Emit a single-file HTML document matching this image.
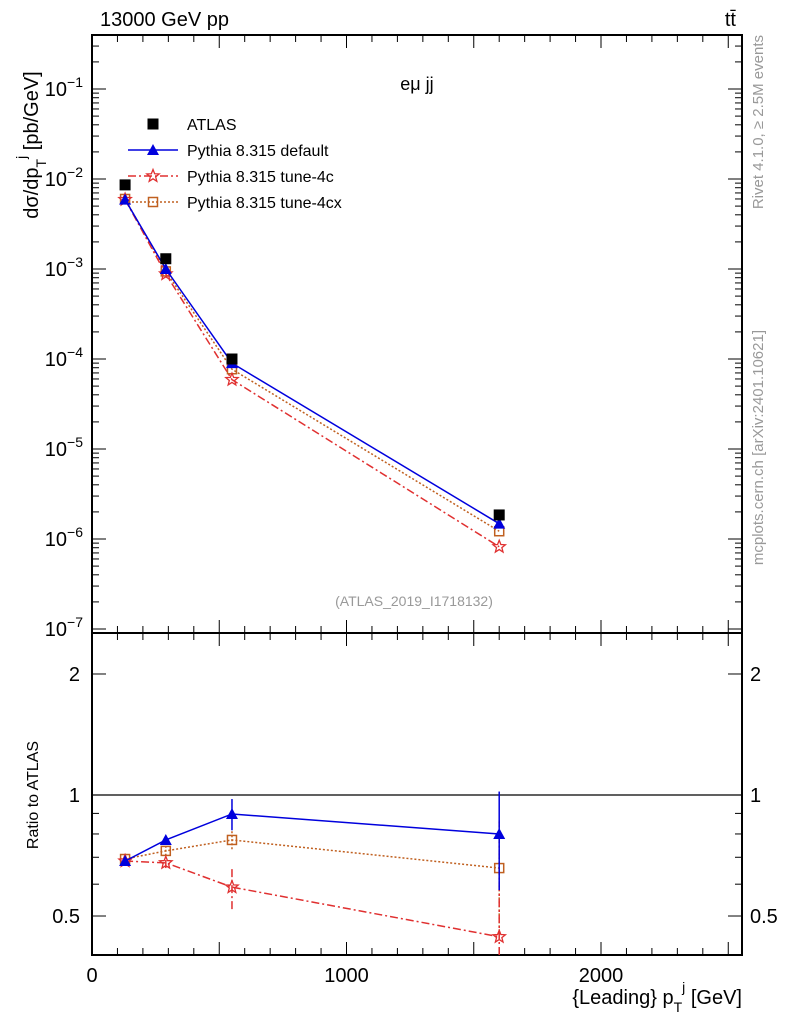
<!DOCTYPE html>
<html><head><meta charset="utf-8"><style>
html,body{margin:0;background:#fff;width:786px;height:1024px;overflow:hidden}
svg{display:block;font-family:"Liberation Sans",sans-serif}
</style></head><body>
<svg id="c" width="786" height="1024"></svg>
<script>
const xVals=[130,290,550,1600];
const atlas=[8.6e-3,1.3e-3,1.0e-4,1.85e-6];
const pyDefault=[5.9e-3,1.0e-3,9.0e-5,1.48e-6];
const pyTune4c=[5.9e-3,8.8e-4,5.9e-5,8.2e-7];
const pyTune4cx=[6.0e-3,9.4e-4,7.7e-5,1.22e-6];
const rDefault=[0.685,0.773,0.897,0.80];
const rDefaultErr=[0.01,0.02,0.08,0.22];
const rTune4c=[0.685,0.678,0.59,0.444];
const rTune4cErr=[0.01,0.02,0.07,0.42];
const rTune4cx=[0.693,0.726,0.773,0.658];
const rTune4cxErr=[0.01,0.02,0.04,0.2];
const xTicks=[0,1000,2000];
const mainTicks=[-7,-6,-5,-4,-3,-2,-1];
const ratioTicks=[0.5,1,2];

const NS="http://www.w3.org/2000/svg",svg=document.getElementById('c');
function el(t,a,p){const e=document.createElementNS(NS,t);for(const k in a)e.setAttribute(k,a[k]);(p||svg).appendChild(e);return e;}
const L=92,R=742,MT=35,MB=633,RT=633,RB=955;
const X=v=>L+v*(R-L)/2554;
const Y=v=>179-(Math.log10(v)+2)*90;
const YR=v=>795-Math.log10(Math.max(v,1e-3))*402;
const clampR=y=>Math.min(RB,Math.max(RT,y));
const defs=el('defs',{});
const cp=el('clipPath',{id:'rc'},defs);el('rect',{x:L,y:RT,width:R-L,height:RB-RT},cp);
const cp2=el('clipPath',{id:'mc'},defs);el('rect',{x:L,y:MT,width:R-L,height:MB-MT},cp2);

let f=el('rect',{x:L,y:MT,width:R-L,height:MB-MT,fill:'none',stroke:'#000','stroke-width':2});

f=el('rect',{x:L,y:RT,width:R-L,height:RB-RT,fill:'none',stroke:'#000','stroke-width':2});

for(let v=0;v<=2500;v+=100){const big=v%500==0;const h=big?13:7;const x=X(v);
 for(const yb of [MB,RB]){el('line',{x1:x,x2:x,y1:yb,y2:yb-h,stroke:'#000'});}
 for(const yt of [MT,RT]){el('line',{x1:x,x2:x,y1:yt,y2:yt+h,stroke:'#000'});}}
xTicks.forEach(v=>{const t=el('text',{x:X(v),y:982,'font-size':20,'text-anchor':'middle'});t.textContent=v;
});
for(let d=-7;d<=-1;d++){for(let m=1;m<10;m++){const v=m*Math.pow(10,d);const y=Y(v);if(y<MT||y>MB)continue;const h=m==1?14:7;
 el('line',{x1:L,x2:L+h,y1:y,y2:y,stroke:'#000'});el('line',{x1:R,x2:R-h,y1:y,y2:y,stroke:'#000'});}}
mainTicks.forEach(d=>{const t=el('text',{x:83,y:Y(Math.pow(10,d))+7,'font-size':20,'text-anchor':'end'});
t.innerHTML='10<tspan dy="-9" font-size="14">'+(d<0?'\u2212':'')+Math.abs(d)+'</tspan>';
});
[0.4,0.5,0.6,0.7,0.8,0.9,1,2].forEach(v=>{const y=YR(v);if(y>RB)return;const h=(v==0.5||v==1||v==2)?14:7;
 el('line',{x1:L,x2:L+h,y1:y,y2:y,stroke:'#000'});el('line',{x1:R,x2:R-h,y1:y,y2:y,stroke:'#000'});});
ratioTicks.forEach(v=>{for(const [x,a] of [[80,'end'],[750,'start']]){const t=el('text',{x:x,y:YR(v)+7,'font-size':20,'text-anchor':a});t.textContent=v;
}});
el('line',{x1:L,x2:R,y1:YR(1),y2:YR(1),stroke:'#000','stroke-width':1.2});

function series(vals,yf,color,dash,marker,name,errs,clip){
 const g=el('g',{'clip-path':clip});
 if(dash!==null)el('polyline',{points:xVals.map((x,i)=>X(x)+','+yf(vals[i])).join(' '),fill:'none',stroke:color,'stroke-width':1.5,'stroke-dasharray':dash},g);
 xVals.forEach((x,i)=>{const cx=X(x),cy=yf(vals[i]);
  if(errs){el('line',{x1:cx,x2:cx,y1:clampR(yf(vals[i]-errs[i])),y2:clampR(yf(vals[i]+errs[i])),stroke:color,'stroke-width':1.5,'stroke-dasharray':dash||''},g);}
  drawMarker(g,marker,cx,cy,color);});
}
function drawMarker(g,m,cx,cy,color){
 if(m=='sq')el('rect',{x:cx-5.5,y:cy-5.5,width:11,height:11,fill:'#000'},g);
 if(m=='tri')el('polygon',{points:`${cx},${cy-6} ${cx-6},${cy+5} ${cx+6},${cy+5}`,fill:color},g);
 if(m=='osq')el('rect',{x:cx-4.5,y:cy-4.5,width:9,height:9,fill:'none',stroke:color,'stroke-width':1.5},g);
 if(m=='star'){let p=[];for(let k=0;k<10;k++){const r=k%2?2.8:6.5,a=-Math.PI/2+k*Math.PI/5;p.push((cx+r*Math.cos(a))+','+(cy+r*Math.sin(a)));}
  el('polygon',{points:p.join(' '),fill:'none',stroke:color,'stroke-width':1.3},g);}
}
const cD='#0000dd',c4='#e03030',cx4='#c06020';
series(pyTune4cx,Y,cx4,'2,2','osq','tune-4cx-main',null,'url(#mc)');
series(pyTune4c,Y,c4,'8,3,2,3','star','tune-4c-main',null,'url(#mc)');
series(pyDefault,Y,cD,'','tri','default-main',null,'url(#mc)');
series(atlas,Y,'#000',null,'sq','atlas-main',null,'url(#mc)');
series(rTune4cx,YR,cx4,'2,2','osq','tune-4cx-ratio',rTune4cxErr,'url(#rc)');
series(rTune4c,YR,c4,'8,3,2,3','star','tune-4c-ratio',rTune4cErr,'url(#rc)');
series(rDefault,YR,cD,'','tri','default-ratio',rDefaultErr,'url(#rc)');

const lg=el('g',{});
const items=[['ATLAS','#000','sq',null],['Pythia 8.315 default',cD,'tri',''],['Pythia 8.315 tune-4c',c4,'star','8,3,2,3'],['Pythia 8.315 tune-4cx',cx4,'osq','2,2']];
items.forEach((it,i)=>{const y=124+i*26;
 if(it[3]!==null)el('line',{x1:128,x2:178,y1:y,y2:y,stroke:it[1],'stroke-width':1.5,'stroke-dasharray':it[3]},lg);
 drawMarker(lg,it[2],153,y,it[1]);
 const t=el('text',{x:187,y:y+6,'font-size':16},lg);t.textContent=it[0];});
function txt(s,a,name){const t=el('text',a);t.innerHTML=s;return t;}
txt('13000 GeV pp',{x:100,y:26,'font-size':20},'title-left');
txt('tt\u0304',{x:736,y:26,'font-size':20,'text-anchor':'end'},'title-right');
txt('eμ jj',{x:417,y:90,'font-size':18,'text-anchor':'middle'},'panel-label');
txt('(ATLAS_2019_I1718132)',{x:414,y:606,'font-size':14,fill:'#999','text-anchor':'middle'},'analysis-id');
txt('dσ/dp<tspan dy="8" font-size="14">T</tspan><tspan dy="-20" font-size="14">j</tspan><tspan dy="12"> [pb/GeV]</tspan>',{transform:'translate(38,145) rotate(-90)','font-size':20,'text-anchor':'middle'},'y-axis-title');
txt('Ratio to ATLAS',{transform:'translate(38,795) rotate(-90)','font-size':16,'text-anchor':'middle'},'ratio-axis-title');
txt('{Leading} p<tspan dy="8" font-size="14">T</tspan><tspan dy="-20" font-size="14">j</tspan><tspan dy="12"> [GeV]</tspan>',{x:742,y:1004,'font-size':20,'text-anchor':'end'},'x-axis-title');
txt('Rivet 4.1.0, ≥ 2.5M events',{transform:'translate(763,35) rotate(-90)','font-size':15,fill:'#999','text-anchor':'end'},'rivet-label');
txt('mcplots.cern.ch [arXiv:2401.10621]',{transform:'translate(763,330) rotate(-90)','font-size':15,fill:'#999','text-anchor':'end'},'mcplots-label');
</script>
</body></html>
